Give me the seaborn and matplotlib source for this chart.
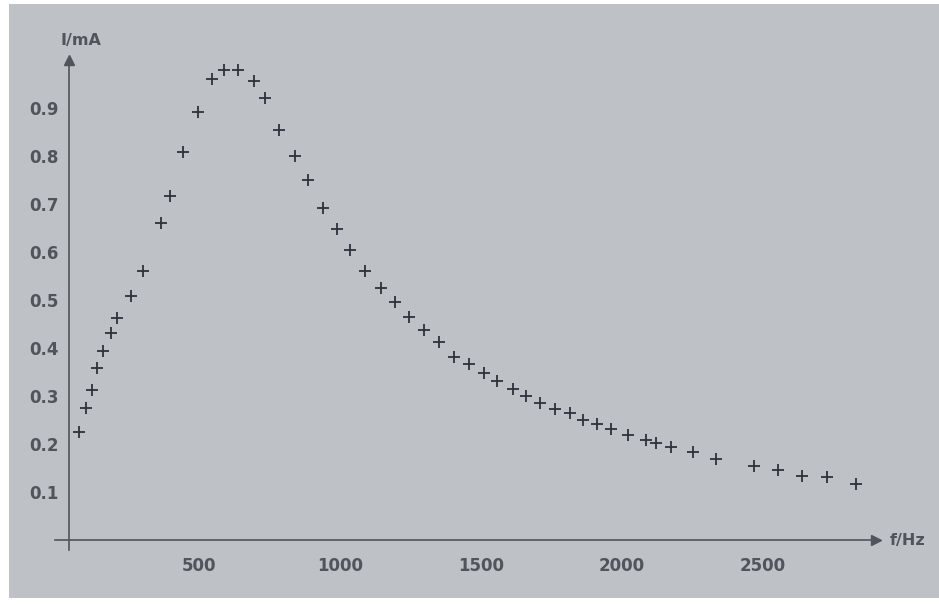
import matplotlib
matplotlib.use("Agg")
import matplotlib.pyplot as plt
from matplotlib.patches import Rectangle
import numpy as np
import pandas as pd
import seaborn as sns

# Measured resonance curve: current I (mA) versus frequency f (Hz)
freq_hz = [75, 100, 120, 140, 160, 188, 208, 259, 300, 364, 398, 444, 498,
           545, 587, 637, 695, 735, 783, 842, 886, 938, 989, 1037, 1088,
           1146, 1196, 1243, 1297, 1351, 1406, 1456, 1510, 1556, 1614, 1660,
           1711, 1761, 1814, 1861, 1911, 1961, 2022, 2086, 2121, 2175, 2253,
           2332, 2467, 2552, 2638, 2727, 2830]
current_ma = [0.225, 0.274, 0.313, 0.359, 0.393, 0.431, 0.462, 0.508, 0.561,
              0.661, 0.716, 0.808, 0.892, 0.961, 0.980, 0.980, 0.956, 0.921,
              0.854, 0.801, 0.749, 0.691, 0.648, 0.604, 0.561, 0.524, 0.495,
              0.464, 0.438, 0.413, 0.382, 0.366, 0.348, 0.331, 0.315, 0.301,
              0.285, 0.273, 0.265, 0.251, 0.241, 0.231, 0.219, 0.209, 0.203,
              0.193, 0.183, 0.169, 0.154, 0.146, 0.134, 0.131, 0.117]

x_ticks = [500, 1000, 1500, 2000, 2500]
y_ticks = [0.1, 0.2, 0.3, 0.4, 0.5, 0.6, 0.7, 0.8, 0.9]
y_tick_labels = ["0.1", "0.2", "0.3", "0.4", "0.5", "0.6", "0.7", "0.8", "0.9"]

df = pd.DataFrame({"f": freq_hz, "I": current_ma})

sns.set_theme(style="white")
plt.rcParams["font.family"] = ["DejaVu Sans"]

bg = "#bec1c6"
ink = "#50545c"
mark = "#2b333d"

W, H = 939, 605
fig = plt.figure(figsize=(W / 100, H / 100), dpi=100, facecolor="white")
# screen area behind the plot
fig.patches.append(Rectangle((9 / W, 7 / H), 1 - 9 / W, 1 - 11 / H,
                             transform=fig.transFigure, facecolor=bg,
                             edgecolor="none", zorder=-5))

ax = fig.add_axes([54.6 / W, (H - 549.6) / H, 821.2 / W, 489.6 / H])
ax.patch.set_visible(False)

sns.scatterplot(data=df, x="f", y="I", marker="+", s=85, color=mark,
                linewidth=1.3, ax=ax, zorder=3)

ax.set_xlim(-12, 2900)
ax.set_ylim(-0.02, 1.0)

for side in ("top", "right"):
    ax.spines[side].set_visible(False)
ax.spines["left"].set_position(("data", 40))
ax.spines["bottom"].set_position(("data", 0))
for side in ("left", "bottom"):
    ax.spines[side].set_color(ink)
    ax.spines[side].set_linewidth(1.2)

# arrow heads at the ends of both axes
ax.plot(1, 0, ">", color=ink, ms=6.5, transform=ax.get_yaxis_transform(), clip_on=False)
ax.plot(40, 1, "^", color=ink, ms=6.5, transform=ax.get_xaxis_transform(), clip_on=False)

ax.set_xticks(x_ticks)
ax.set_xticklabels([str(v) for v in x_ticks])
ax.set_yticks(y_ticks)
ax.set_yticklabels(y_tick_labels)
ax.tick_params(axis="both", direction="inout", length=5, width=1.0, color=ink,
               labelcolor=ink, labelsize=12)
ax.tick_params(axis="x", pad=10)
ax.tick_params(axis="y", pad=5)
for lbl in ax.get_xticklabels() + ax.get_yticklabels():
    lbl.set_fontweight("bold")

ax.set_xlabel("")
ax.set_ylabel("")
ax.text(80, 1.0 + 20 / 489.6 * 1.02, "I/mA", transform=ax.transData,
        ha="center", va="center", fontsize=11.5, fontweight="bold", color=ink,
        clip_on=False)
ax.text(1.0175, 0, "f/Hz", transform=ax.get_yaxis_transform(), ha="left",
        va="center", fontsize=11.5, fontweight="bold", color=ink, clip_on=False)

fig.savefig("out.png", dpi=100, facecolor="white")
